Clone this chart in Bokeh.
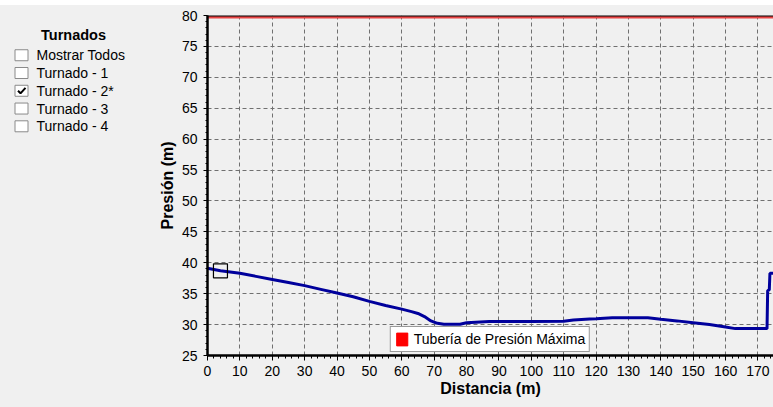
import math
from bokeh.plotting import figure
from bokeh.models import Range1d, Legend, LegendItem, Span, SingleIntervalTicker, Spacer
from bokeh.layouts import row, column
from bokeh.core.properties import value
from bokeh.embed import file_html
from bokeh.resources import INLINE

# ---------------- data ----------------
panel_title = "Turnados"
options = ["Mostrar Todos", "Turnado - 1", "Turnado - 2*", "Turnado - 3", "Turnado - 4"]
checked = [False, False, True, False, False]

dist = [0, 4, 10, 15, 20, 25, 30, 35, 40, 45, 50, 55, 60, 63, 65, 67, 69, 71, 73, 78,
        80, 87, 100, 110, 113, 118, 120, 125, 130, 136, 140, 145, 150, 155, 160, 163,
        172.8, 173.0, 173.5, 173.7, 175]
pressure = [39.1, 38.7, 38.3, 37.8, 37.3, 36.8, 36.3, 35.7, 35.1, 34.5, 33.75, 33.1, 32.5,
            32.1, 31.8, 31.3, 30.6, 30.2, 30.05, 30.05, 30.3, 30.5, 30.5, 30.55, 30.75,
            30.9, 30.95, 31.1, 31.1, 31.1, 30.85, 30.6, 30.3, 30.0, 29.6, 29.35,
            29.35, 35.5, 35.6, 38.3, 38.3]
selected_index = 1
max_pressure = 79.7
legend_label = "Tubería de Presión Máxima"
x_label = "Distancia (m)"
y_label = "Presión (m)"

# ---------------- style ----------------
BG = "#f0f0f0"
FONT = "Liberation Sans"
BLUE = "#00009c"
RED = "#e84444"
TOP = 5          # white strip above the window content
H = 407 - TOP
PANEL_W = 148

# ---------------- left panel ----------------
panel = figure(width=PANEL_W, height=H, x_range=Range1d(0, PANEL_W), y_range=Range1d(407, TOP),
               output_backend="svg", toolbar_location=None, min_border=0,
               x_axis_type=None, y_axis_type=None,
               background_fill_color=BG, border_fill_color=BG)
panel.grid.visible = False
panel.outline_line_color = None

panel.text(x=[73], y=[28.5], text=[panel_title], text_font=value(FONT),
           text_font_style="bold", text_font_size="14.5px", text_color="#000000",
           text_align="center", text_baseline="middle")

row_y = [52 + 21 * i for i in range(len(options))]
box_x = [21] * len(options)
panel.rect(x=box_x, y=row_y, width=13, height=13, fill_color="#ffffff",
           line_color="#8a8a8a", line_width=1)
panel.text(x=[36] * len(options), y=row_y, text=options, text_font=value(FONT),
           text_font_size="14px", text_color="#000000", text_align="left",
           text_baseline="middle")
for i, c in enumerate(checked):
    if c:
        cx, cy = box_x[i], row_y[i]
        panel.line(x=[cx - 3.5, cx - 1, cx + 4], y=[cy, cy + 3, cy - 3.5],
                   line_color="#000000", line_width=2)

# ---------------- chart ----------------
p = figure(width=773 - PANEL_W, height=H, x_range=Range1d(0, 174.8), y_range=Range1d(25, 80),
           output_backend="svg", toolbar_location=None,
           min_border_left=207 - PANEL_W, min_border_right=0,
           min_border_top=15 - TOP, min_border_bottom=407 - 355,
           background_fill_color=BG, border_fill_color=BG)
p.outline_line_color = None

p.xaxis.ticker = SingleIntervalTicker(interval=10, num_minor_ticks=5)
p.yaxis.ticker = SingleIntervalTicker(interval=5, num_minor_ticks=5)

for ax in (p.xaxis[0], p.yaxis[0]):
    ax.axis_line_color = "black"
    ax.axis_line_width = 2.5
    ax.major_tick_line_color = "black"
    ax.minor_tick_line_color = "black"
    ax.major_tick_in = 0
    ax.minor_tick_in = 0
    ax.major_label_text_font = FONT
    ax.major_label_text_font_size = "14px"
    ax.major_label_text_color = "#000000"
    ax.axis_label_text_font = FONT
    ax.axis_label_text_font_size = "16px"
    ax.axis_label_text_font_style = "bold"
    ax.axis_label_text_color = "#000000"

p.xaxis.major_tick_out = 5
p.xaxis.minor_tick_out = 3
p.xaxis.major_label_standoff = 5
p.xaxis.axis_label_standoff = 1
p.xaxis.axis_label = x_label

p.yaxis.major_tick_out = 4
p.yaxis.minor_tick_out = 2
p.yaxis.major_label_standoff = 6
p.yaxis.axis_label_standoff = 3
p.yaxis.axis_label = y_label

p.grid.grid_line_color = "#707070"
p.grid.grid_line_dash = "4 3"
p.grid.grid_line_width = 1

p.add_layout(Span(location=80, dimension="width", line_color="black", line_width=2))

p.line(x=[dist[0], dist[-1]], y=[max_pressure, max_pressure], line_color=RED, line_width=2.5)
p.line(x=dist, y=pressure, line_color=BLUE, line_width=3)
p.scatter(x=[dist[selected_index]], y=[pressure[selected_index]], marker="square", size=14,
          fill_color=None, line_color="black", line_width=1.2)

dummy = p.quad(left=[math.nan], right=[math.nan], top=[math.nan], bottom=[math.nan],
               fill_color="#ff0000", line_color="#ff0000")
legend = Legend(items=[LegendItem(label=legend_label, renderers=[dummy])],
                location="bottom_center", orientation="vertical",
                glyph_width=14, glyph_height=16, label_height=16, label_standoff=5,
                padding=4, margin=3, spacing=0,
                label_text_font=FONT, label_text_font_size="14px", label_text_color="#000000",
                border_line_color="#333333", border_line_width=1.5,
                background_fill_color="#ffffff", background_fill_alpha=1.0)
p.add_layout(legend)

body = row(panel, p, styles={"background-color": BG})
layout = column(Spacer(width=773, height=TOP), body)
open("out.html", "w").write(file_html(layout, INLINE))
